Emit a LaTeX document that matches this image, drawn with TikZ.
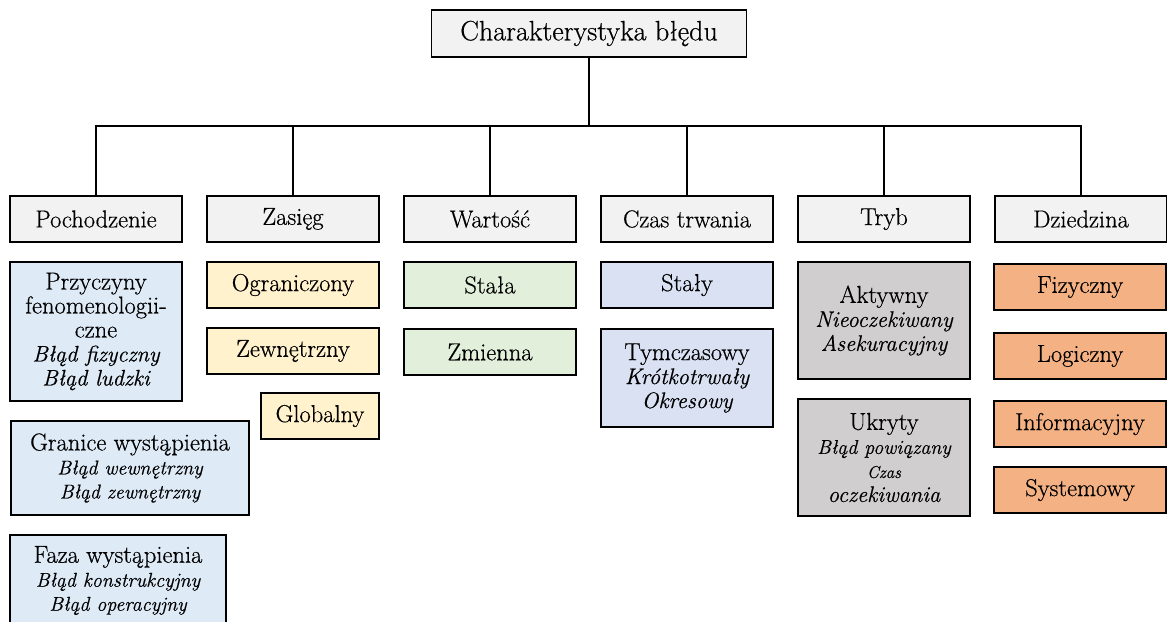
\documentclass[tikz,border=0pt]{standalone}
\usepackage{fontspec}
\setmainfont{Latin Modern Roman}[FakeBold=0.5]
\begin{document}
\definecolor{hdrgray}{HTML}{F2F2F2}
\definecolor{originblue}{HTML}{DEEAF6}
\definecolor{rangeyellow}{HTML}{FFF2CC}
\definecolor{valuegreen}{HTML}{E2EFDA}
\definecolor{timeblue}{HTML}{D9E1F2}
\definecolor{modegray}{HTML}{D0CECE}
\definecolor{domainorange}{HTML}{F4B183}
\newcommand{\itl}[1]{{\fontsize{22.5}{24}\selectfont\itshape #1}}
\newcommand{\its}[1]{{\fontsize{20}{22}\selectfont\itshape #1}}
\begin{tikzpicture}[x=1pt,y=-1pt,
  basebox/.style={draw=black, line width=1.6pt, align=center, inner sep=1pt,
    font=\fontsize{24.5}{24}\selectfont},
  hdrbox/.style={basebox, fill=hdrgray, minimum width=172pt, minimum height=46pt},
  originbox/.style={basebox, fill=originblue},
  rangebox/.style={basebox, fill=rangeyellow, minimum width=172pt, minimum height=46pt},
  valuebox/.style={basebox, fill=valuegreen, minimum width=172pt, minimum height=46pt},
  timebox/.style={basebox, fill=timeblue, minimum width=172pt},
  modebox/.style={basebox, fill=modegray, minimum width=172pt, minimum height=117pt},
  domainbox/.style={basebox, fill=domainorange, minimum width=172pt, minimum height=46pt},
  linkline/.style={line width=1.6pt}
]
\useasboundingbox (0,0) rectangle (1167,621);
\clip (0,0) rectangle (1167,621);

% root
\node[basebox, fill=hdrgray, minimum width=315pt, minimum height=47pt,
  font=\fontsize{28}{30}\selectfont] (root) at (589,33.5) {Charakterystyka błędu};

% categories
\node[hdrbox] (poch) at (96,219)  {Pochodzenie};
\node[hdrbox] (zas)  at (293,219) {Zasięg};
\node[hdrbox] (war)  at (490,219) {Wartość};
\node[hdrbox] (czas) at (687,219) {Czas trwania};
\node[hdrbox] (tryb) at (884,219) {Tryb};
\node[hdrbox] (dzi)  at (1081,219) {Dziedzina};

% tree connectors
\coordinate (bus) at (589,126);
\foreach \c in {poch,zas,war,czas,tryb,dzi}
  \draw[linkline] (root.south) -- (bus) -| (\c.north);

% origin
\node[originbox, minimum width=172pt, minimum height=139pt] (przy) at (96,331.5)
  {Przyczyny\\fenomenologii-\\czne\\\itl{Błąd fizyczny}\\\itl{Błąd ludzki}};
\node[originbox, minimum width=238pt, minimum height=94pt] (gran) at (130,468)
  {Granice wystąpienia\\\its{Błąd wewnętrzny}\\\its{Błąd zewnętrzny}};
\node[originbox, minimum width=216pt, minimum height=91pt] (faza) at (118,580.5)
  {Faza wystąpienia\\\its{Błąd konstrukcyjny}\\\its{Błąd operacyjny}};

% range
\node[rangebox] (ogr) at (293,285) {Ograniczony};
\node[rangebox] (zew) at (293,351) {Zewnętrzny};
\node[rangebox, minimum width=118pt] (glob) at (320,416) {Globalny};

% value
\node[valuebox] (stala) at (490,285) {Stała};
\node[valuebox] (zmien) at (490,352) {Zmienna};

% duration
\node[timebox, minimum height=46pt] (staly) at (687,285) {Stały};
\node[timebox, minimum height=98pt] (tymcz) at (687,378)
  {Tymczasowy\\\itl{Krótkotrwały}\\\itl{Okresowy}};

% mode
\node[modebox] (akt) at (884,320.5) {Aktywny\\\itl{Nieoczekiwany}\\\itl{Asekuracyjny}};
\node[modebox] (ukr) at (884,457.5)
  {Ukryty\\\its{Błąd powiązany}\\{\fontsize{17}{19}\selectfont\itshape Czas}\\\itl{oczekiwania}};

% domain
\node[domainbox] (fiz) at (1080,287) {Fizyczny};
\node[domainbox] (log) at (1080,356) {Logiczny};
\node[domainbox] (inf) at (1080,424) {Informacyjny};
\node[domainbox] (sys) at (1080,490) {Systemowy};
\end{tikzpicture}
\end{document}
